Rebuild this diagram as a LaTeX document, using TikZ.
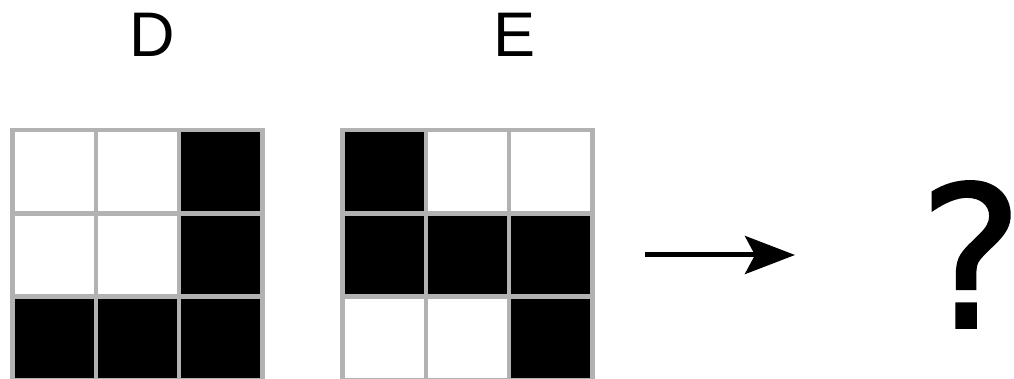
\documentclass[tikz,border=0pt]{standalone}
\usepackage{fontspec}
\setmainfont{Liberation Sans}
\newfontfamily\qfont[FakeBold=1]{DejaVu Sans}
\usetikzlibrary{arrows.meta}
\begin{document}
\begin{tikzpicture}[x=1pt,y=-1pt,
  cellbox/.style={draw=gray!60, line width=4.5pt, minimum size=83.33pt, inner sep=0pt, outer sep=0pt, anchor=center},
  blk/.style={cellbox, fill=black},
  wht/.style={cellbox, fill=white},
  lbl/.style={anchor=base, inner sep=0pt, font=\fontsize{63}{63}\selectfont},
  qmark/.style={anchor=base, inner sep=0pt, font=\qfont\fontsize{198}{198}\selectfont}]
\useasboundingbox (0,0) rectangle (1014,379);
\fill[white] (0,0) rectangle (1014,379);
% labels
\node[lbl] (labD) at (152.5,57) {D};
\node[lbl] (labE) at (515,57) {E};
% grid D (x: 12.5..262.5, y: 130..380)
\node[wht] (d11) at (54.17,171.67) {};
\node[wht] (d12) at (137.5,171.67) {};
\node[blk] (d13) at (220.83,171.67) {};
\node[wht] (d21) at (54.17,255) {};
\node[wht] (d22) at (137.5,255) {};
\node[blk] (d23) at (220.83,255) {};
\node[blk] (d31) at (54.17,338.33) {};
\node[blk] (d32) at (137.5,338.33) {};
\node[blk] (d33) at (220.83,338.33) {};
% grid E (x: 342.5..592.5)
\node[blk] (e11) at (384.17,171.67) {};
\node[wht] (e12) at (467.5,171.67) {};
\node[wht] (e13) at (550.83,171.67) {};
\node[blk] (e21) at (384.17,255) {};
\node[blk] (e22) at (467.5,255) {};
\node[blk] (e23) at (550.83,255) {};
\node[wht] (e31) at (384.17,338.33) {};
\node[wht] (e32) at (467.5,338.33) {};
\node[blk] (e33) at (550.83,338.33) {};
% redraw grid lines on top
\foreach \x in {12.5,95.83,179.17,262.5,342.5,425.83,509.17,592.5}{\draw[gray!60,line width=4.5pt] (\x,130) -- (\x,382);}
\foreach \y in {130,213.33,296.67}{\draw[gray!60,line width=4.5pt] (10.25,\y) -- (264.75,\y); \draw[gray!60,line width=4.5pt] (340.25,\y) -- (594.75,\y);}
% arrow
\coordinate (arrS) at (645,255);
\coordinate (arrE) at (795,255);
\draw[line width=5pt, -{Stealth[length=50pt,width=38pt,inset=10pt]}] (arrS) -- (arrE);
% question mark
\node[qmark] (q) at (971,328) {?};
\end{tikzpicture}
\end{document}
